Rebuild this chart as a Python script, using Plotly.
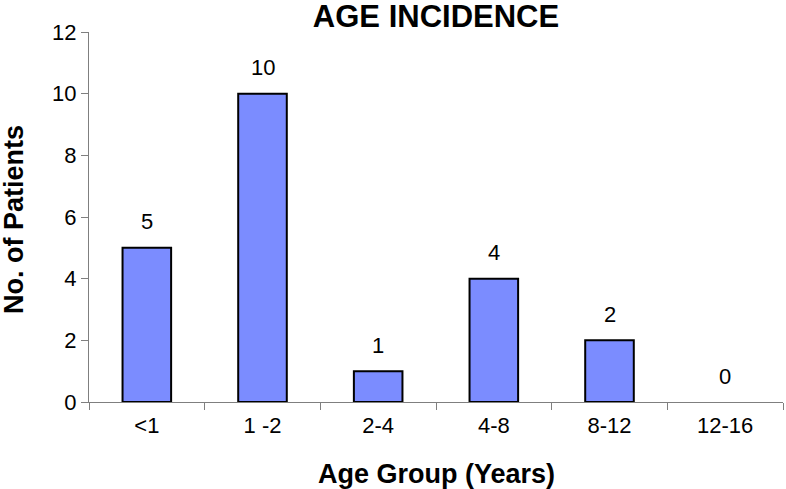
import plotly.graph_objects as go

categories = ["<1", "1 -2", "2-4", "4-8", "8-12", "12-16"]
patients = [5, 10, 1, 4, 2, 0]
y_ticks = [0, 2, 4, 6, 8, 10, 12]

FONT = "Liberation Sans, Arial, sans-serif"
AXIS_COLOR = "#7f7f7f"

fig = go.Figure()
fig.add_trace(go.Bar(
    x=categories, y=patients,
    marker=dict(color="#7B8CFF",
                line=dict(color="black", width=[2 if v > 0 else 0 for v in patients])),
    width=0.42, showlegend=False, hoverinfo="skip",
))

annotations = []
for c, v in zip(categories, patients):
    annotations.append(dict(
        x=c, y=v, xref="x", yref="y", text=str(v), showarrow=False,
        yanchor="middle", yshift=26, font=dict(family=FONT, size=22, color="black"),
    ))
annotations.append(dict(
    x=0.5, y=0, xref="paper", yref="paper", text="<b>Age Group (Years)</b>",
    showarrow=False, yanchor="middle", yshift=-72,
    font=dict(family=FONT, size=27, color="black"),
))
annotations.append(dict(
    x=0, y=0.5, xref="paper", yref="paper", text="<b>No. of Patients</b>",
    showarrow=False, xanchor="center", xshift=-75, yshift=-3, textangle=-90,
    font=dict(family=FONT, size=27, color="black"),
))

fig.update_layout(
    width=786, height=489,
    margin=dict(l=89, r=3, t=32, b=87, autoexpand=False),
    paper_bgcolor="white", plot_bgcolor="white",
    font=dict(family=FONT, size=22, color="black"),
    title=dict(text="<b>AGE INCIDENCE</b>", x=436 / 786, xanchor="center",
               y=1 - 16 / 489, yanchor="middle", font=dict(size=31)),
    annotations=annotations,
)
fig.update_xaxes(
    type="category", showline=True, linecolor=AXIS_COLOR, linewidth=1,
    ticks="outside", tickson="boundaries", ticklen=7, tickcolor=AXIS_COLOR,
    showgrid=False, range=[-0.5, 5.5], automargin=False, ticklabelstandoff=4,
)
fig.update_yaxes(
    range=[0, 12], tickvals=y_ticks, showline=True, linecolor=AXIS_COLOR, linewidth=1,
    ticks="outside", ticklen=7, tickcolor=AXIS_COLOR, showgrid=False, zeroline=False,
    automargin=False,
)

fig.write_html("out.html", config={"displayModeBar": False},
               post_script="document.body.style.margin='0';")
